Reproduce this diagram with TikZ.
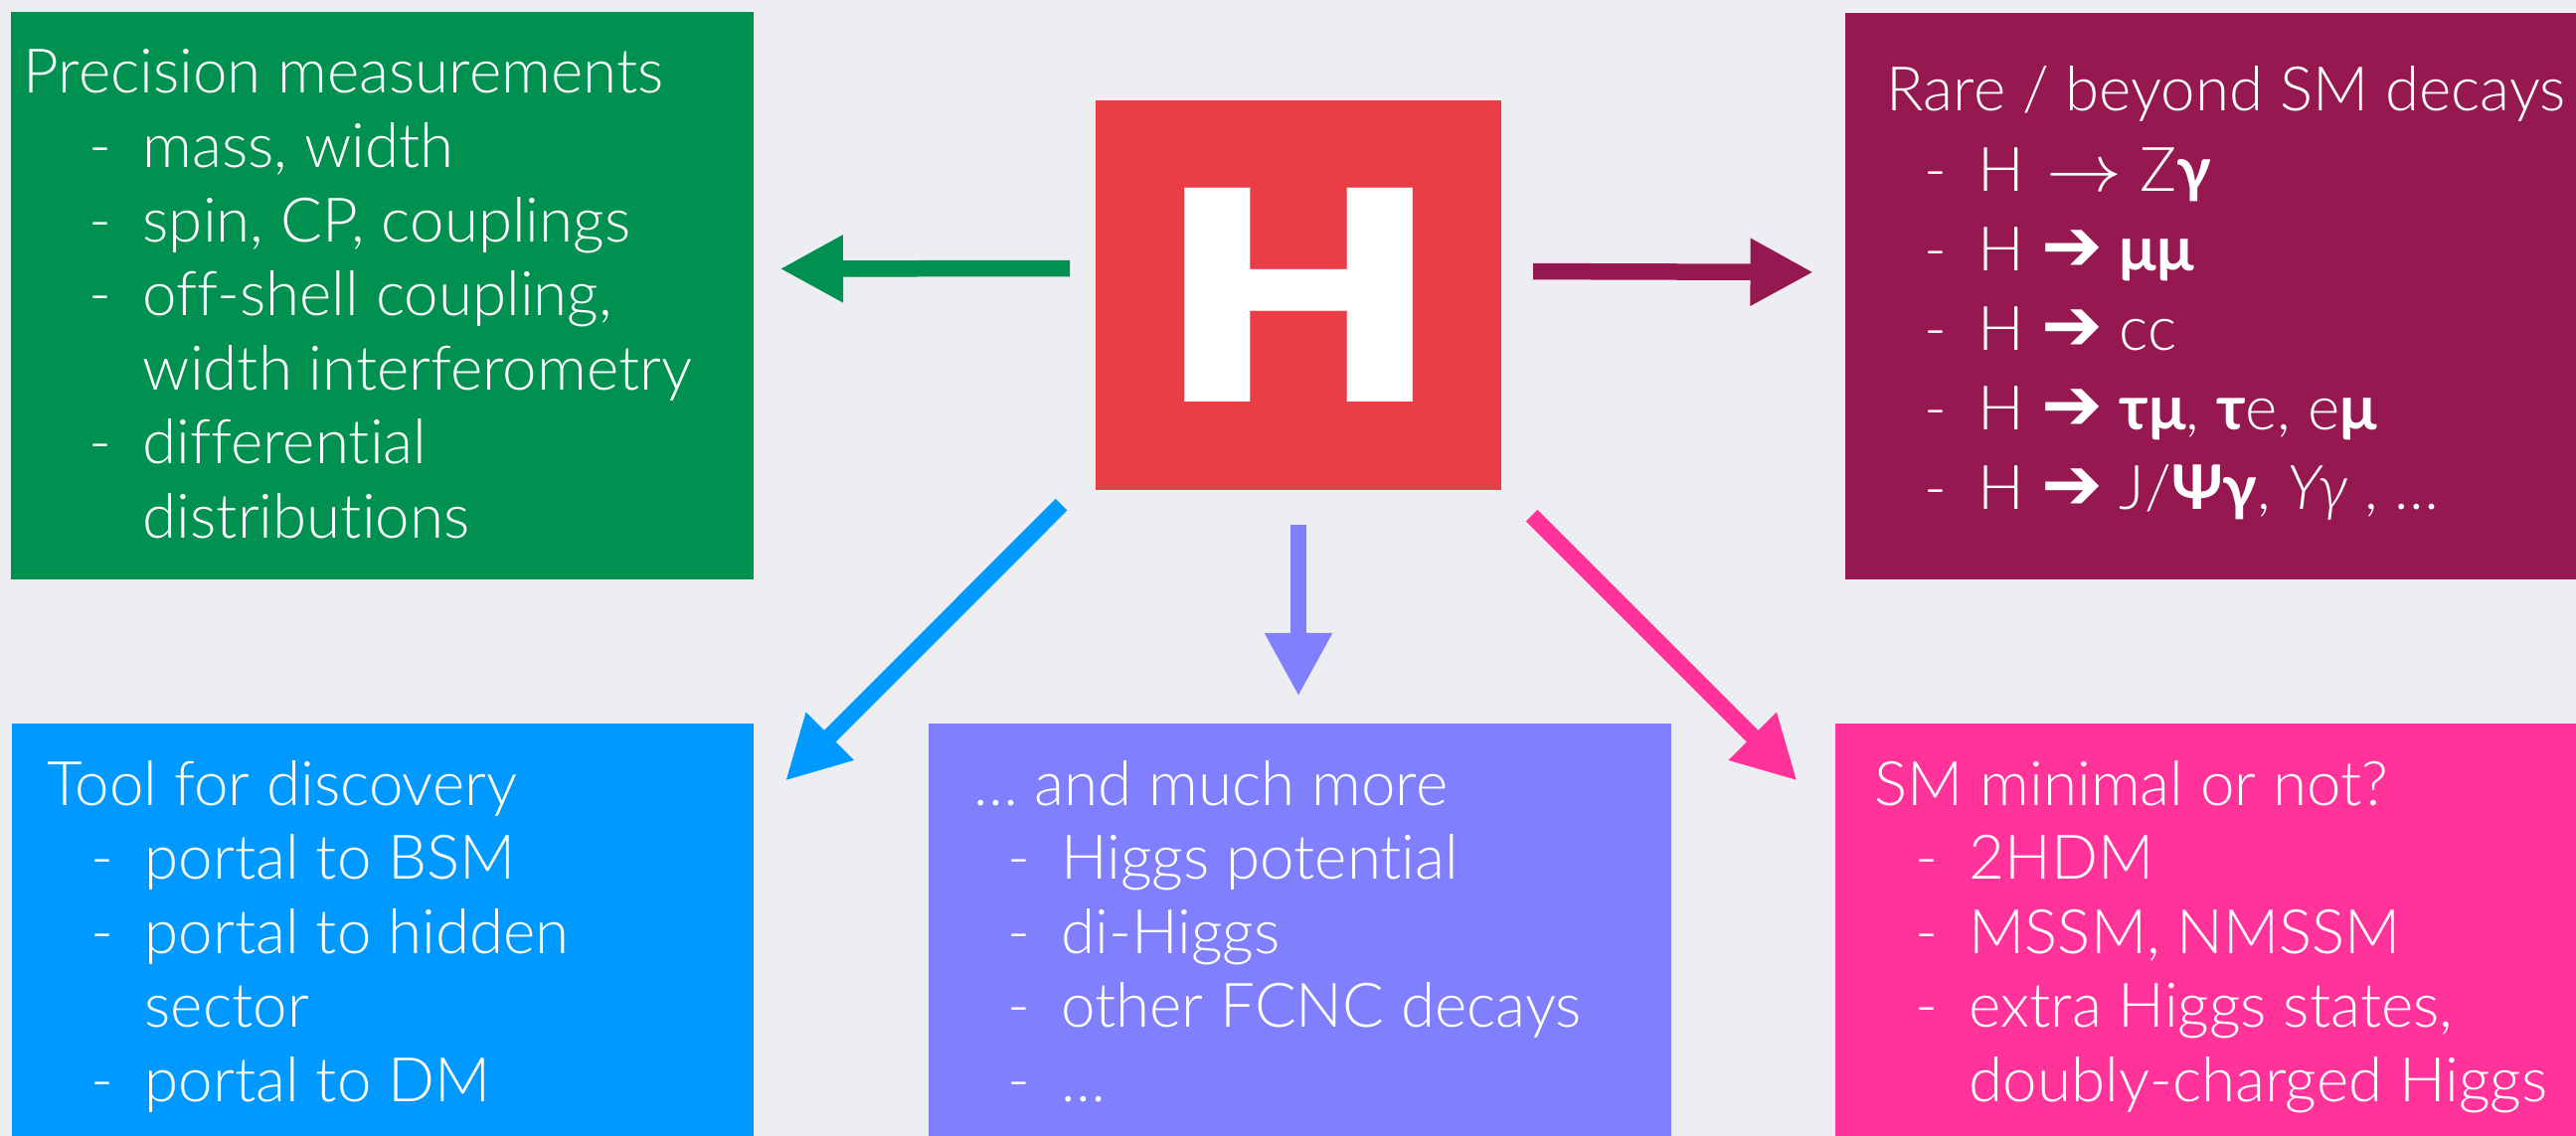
\documentclass[tikz,border=0pt]{standalone}
\usepackage{fontspec}
\usepackage{graphicx}
\usetikzlibrary{arrows.meta}
\setmainfont{Lato Light}[Ligatures=NoCommon, BoldFont=Lato Bold, ItalicFont=Lato Light Italic]
\newfontfamily\arrowfont{DejaVu Sans}
\newfontfamily\higgsfont{DejaVu Sans}
\definecolor{bggray}{RGB}{236,238,241}
\definecolor{precgreen}{RGB}{0,144,80}
\definecolor{rarewine}{RGB}{150,24,80}
\definecolor{higgsred}{RGB}{233,62,72}
\definecolor{toolblue}{RGB}{0,153,255}
\definecolor{morelilac}{RGB}{128,128,255}
\definecolor{smpink}{RGB}{255,51,153}
\newcommand{\itm}{\makebox[5.4mm][l]{-}}
\newcommand{\cnt}{\hspace*{5.4mm}}
\newcommand{\thinto}{\hspace{0.35em}\scalebox{1.25}[1.1]{$\rightarrow$}\hspace{0.3em}}
\newcommand{\heavyto}{\ {\arrowfont\fontsize{21}{21}\selectfont ➔}\ }
\begin{document}
\begin{tikzpicture}[x=0.1mm, y=-0.1mm,
  box/.style = {fill=#1, inner sep=0pt, outer sep=0pt, anchor=north west},
  txt/.style = {text=white, inner sep=0pt, anchor=base west, font=\fontsize{17.6}{21.2}\selectfont},
  arr/.style = {draw=#1, line width=1.65mm, -{Triangle[length=6.35mm,width=6.35mm]}}]
  \fill[bggray] (0,0) rectangle (2591,1143);
  % boxes
  \node[box=precgreen, minimum width=74.7mm, minimum height=57.1mm] (prec) at (11,12) {};
  \node[box=rarewine, minimum width=73.5mm, minimum height=57mm] (rare) at (1856,13) {};
  \node[box=higgsred, minimum width=40.8mm, minimum height=39.2mm, text=white,
    font=\higgsfont\bfseries\fontsize{84}{84}\selectfont] (higgs) at (1102,101) {\scalebox{1.19}[1]{H}};
  \node[box=toolblue, minimum width=74.64mm, minimum height=41.5mm] (tool) at (11.6,728) {};
  \node[box=morelilac, minimum width=74.7mm, minimum height=41.5mm] (more) at (933.6,728) {};
  \node[box=smpink, minimum width=74.5mm, minimum height=41.5mm] (smmin) at (1846,728) {};
  % texts
  \node[txt] (prec-text) at (89,94) {\begin{tabular}[t]{@{}l@{}}
    \hspace*{-6.6mm}Precision measurements\\
    \itm mass, width\\
    \itm spin, CP, couplings\\
    \itm off-shell coupling,\\
    \cnt width interferometry\\
    \itm differential\\
    \cnt distributions
  \end{tabular}};
  \node[txt, font=\fontsize{17.6}{22.8}\selectfont] (rare-text) at (1935,112) {\begin{tabular}[t]{@{}l@{}}
    \hspace*{-3.8mm}Rare / beyond SM decays\\
    \itm H\thinto Z\textbf{γ}\\
    \itm H\heavyto \textbf{μμ}\\
    \itm H\heavyto cc\\
    \itm H\heavyto \textbf{τμ}, \textbf{τ}e, e\textbf{μ}\\
    \itm H\heavyto J/\textbf{Ψγ}, \textit{Υγ} , …
  \end{tabular}};
  \node[txt] (tool-text) at (91,810) {\begin{tabular}[t]{@{}l@{}}
    \hspace*{-4.4mm}Tool for discovery\\
    \itm portal to BSM\\
    \itm portal to hidden\\
    \cnt sector\\
    \itm portal to DM
  \end{tabular}};
  \node[txt] (more-text) at (1012.7,810) {\begin{tabular}[t]{@{}l@{}}
    \hspace*{-3.4mm}… and much more\\
    \itm Higgs potential\\
    \itm di-Higgs\\
    \itm other FCNC decays\\
    \itm …
  \end{tabular}};
  \node[txt] (smmin-text) at (1926,810) {\begin{tabular}[t]{@{}l@{}}
    \hspace*{-4.1mm}SM minimal or not?\\
    \itm 2HDM\\
    \itm MSSM, NMSSM\\
    \itm extra Higgs states,\\
    \cnt doubly-charged Higgs
  \end{tabular}};
  % arrows
  \draw[arr=precgreen, shorten <=2.6mm, shorten >=2.65mm] ([yshift=2.7mm]higgs.west) to ([yshift=2.7mm]prec.east);
  \draw[arr=rarewine, shorten <=3.2mm, shorten >=3.2mm] ([yshift=2.4mm]higgs.east) to ([yshift=2.4mm]rare.west);
  \draw[arr=toolblue] ([shift={(-34.4,14.7)}]higgs.south west) to ([shift={(32,57.6)}]tool.north east);
  \draw[arr=morelilac, shorten <=3.5mm, shorten >=2.75mm] (higgs.south) to (higgs.south |- more.north);
  \draw[arr=smpink] ([shift={(30.6,25.7)}]higgs.south east) to ([shift={(-38.4,57.6)}]smmin.north west);
\end{tikzpicture}
\end{document}
